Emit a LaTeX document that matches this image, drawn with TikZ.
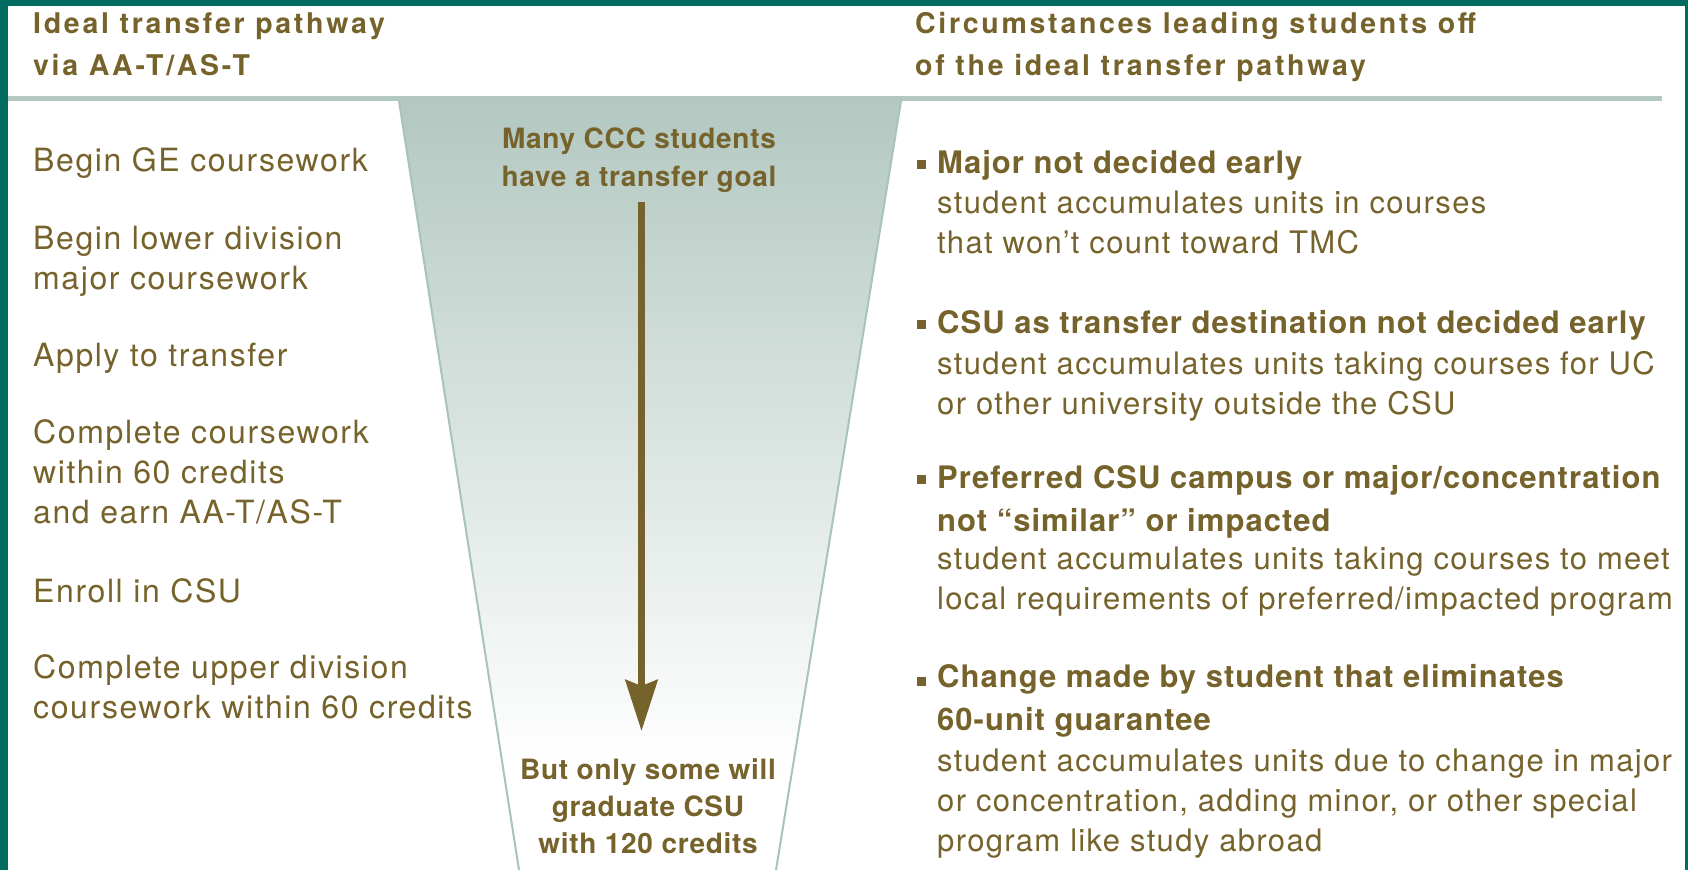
\documentclass[tikz,border=0pt]{standalone}
\usepackage{fontspec}
\usetikzlibrary{arrows.meta}
\setmainfont{TeX Gyre Heros}
\newfontfamily\headfam[LetterSpace=9.5]{TeX Gyre Heros}
\newfontfamily\stepfam[LetterSpace=5]{TeX Gyre Heros}
\newfontfamily\bodyfam[LetterSpace=4.3]{TeX Gyre Heros}
\newfontfamily\leadfam[LetterSpace=3.3]{TeX Gyre Heros}
\newfontfamily\funnelfam[LetterSpace=2.5]{TeX Gyre Heros}

\definecolor{txtbrown}{HTML}{76632B}
\definecolor{frameteal}{HTML}{006B5F}
\definecolor{ruleteal}{HTML}{B3C8C1}
\definecolor{edgeteal}{HTML}{A8C3BC}

% funnel fill: pale teal at the mouth, fading to white towards the neck
\pgfdeclareverticalshading{funnelfade}{100bp}{color(0bp)=(white); color(32bp)=(white); color(75bp)=(ruleteal); color(100bp)=(ruleteal)}

\begin{document}
% node positions give the baseline of the LAST line of each text block
\begin{tikzpicture}[x=1pt, y=-1pt,
  head/.style={anchor=base west, align=left, inner sep=0pt, text=txtbrown,
    font=\headfam\bfseries\fontsize{28.5}{42}\selectfont},
  stepitem/.style={anchor=base west, align=left, inner sep=0pt, text=txtbrown,
    font=\stepfam\fontsize{32}{40}\selectfont},
  lead/.style={anchor=base west, align=left, inner sep=0pt, text=txtbrown,
    font=\leadfam\bfseries\fontsize{31}{43}\selectfont},
  detail/.style={anchor=base west, align=left, inner sep=0pt, text=txtbrown,
    font=\bodyfam\fontsize{31}{40}\selectfont},
  funneltext/.style={anchor=base, align=center, inner sep=0pt, text=txtbrown,
    font=\funnelfam\bfseries\fontsize{28}{38}\selectfont},
  sq/.style={fill=txtbrown, minimum size=9pt, inner sep=0pt, draw=none}
]
\useasboundingbox (0,0) rectangle (1688,870);
\fill[white] (0,0) rectangle (1688,870);

% funnel
\shade[shading=funnelfade] (399,101) -- (901,101) -- (776,870) -- (519,870) -- cycle;
\draw[edgeteal, line width=2] (399,101) -- (519,870);
\draw[edgeteal, line width=2] (901,101) -- (776,870);

% header rule
\fill[ruleteal] (8,96) rectangle (1662,101);

% frame
\fill[frameteal] (0,0) rectangle (1688,6);
\fill[frameteal] (0,0) rectangle (8,870);
\fill[frameteal] (1685,0) rectangle (1688,870);

% column headings
\node[head] (hdrL) at (33,75) {Ideal transfer pathway\\via AA-T/AS-T};
\node[head] (hdrR) at (915,75) {Circumstances leading students off\\of the ideal transfer pathway};

% ideal pathway steps
\node[stepitem] (s1) at (33,171) {Begin GE coursework};
\node[stepitem] (s2) at (33,289) {Begin lower division\\major coursework};
\node[stepitem] (s3) at (33,366) {Apply to transfer};
\node[stepitem] (s4) at (33,523) {Complete coursework\\within 60 credits\\and earn AA-T/AS-T};
\node[stepitem] (s5) at (33,602) {Enroll in CSU};
\node[stepitem] (s6) at (33,718) {Complete upper division\\coursework within 60 credits};

% funnel labels and arrow
\node[funneltext] (fnltop) at (639,186) {Many CCC students\\have a transfer goal};
\node[funneltext, font=\funnelfam\bfseries\fontsize{28}{37}\selectfont] (fnlbot) at (648,853) {But only some will\\graduate CSU\\with 120 credits};
\coordinate (arrowtop) at (641.5,202);
\coordinate (arrowtip) at (641.5,731);
\draw[txtbrown, line width=7, -{Stealth[length=51pt, width=32pt, inset=6pt]}] (arrowtop) -- (arrowtip);

% circumstances
\node[sq] (q1) at (921.5,164) {};
\node[lead] (c1) at (937,173) {Major not decided early};
\node[detail] (d1) at (937,253) {student accumulates units in courses\\that won’t count toward TMC};

\node[sq] (q2) at (921.5,324) {};
\node[lead] (c2) at (937,333) {CSU as transfer destination not decided early};
\node[detail] (d2) at (937,414) {student accumulates units taking courses for UC\\or other university outside the CSU};

\node[sq] (q3) at (921.5,479) {};
\node[lead] (c3) at (937,531) {Preferred CSU campus or major/concentration\\not “similar” or impacted};
\node[detail] (d3) at (937,609) {student accumulates units taking courses to meet\\local requirements of preferred/impacted program};

\node[sq] (q4) at (921.5,681) {};
\node[lead] (c4) at (937,730) {Change made by student that eliminates\\60-unit guarantee};
\node[detail] (d4) at (937,851) {student accumulates units due to change in major\\or concentration, adding minor, or other special\\program like study abroad};
\end{tikzpicture}
\end{document}
